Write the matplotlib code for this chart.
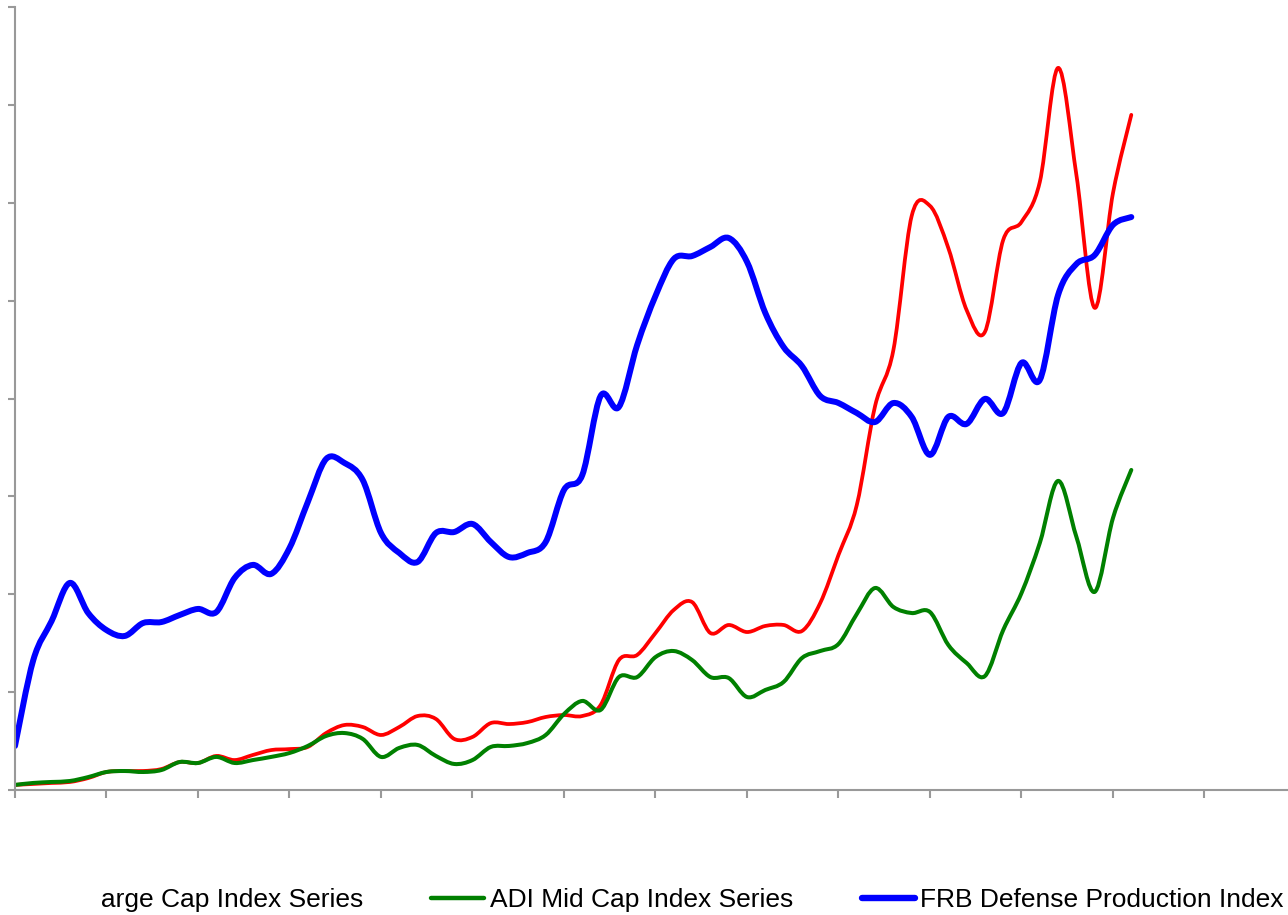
import matplotlib
matplotlib.use("Agg")
import matplotlib.pyplot as plt
from matplotlib.path import Path
from matplotlib.patches import PathPatch
from matplotlib.lines import Line2D
from matplotlib.transforms import Bbox, TransformedBbox
import numpy as np

plt.rcParams['font.family'] = ['Liberation Sans', 'DejaVu Sans']

# quarterly index values
large_cap = [2.6, 3.1, 3.6, 4.1, 6.1, 9.2, 9.7, 9.7, 10.7, 14.3,
             13.8, 17.4, 15.3, 17.9, 20.4, 20.9, 22.0, 29.1, 33.2, 32.2,
             28.1, 32.2, 37.8, 36.3, 26.1, 27.1, 34.2, 33.7, 34.7, 37.3,
             38.3, 37.8, 43.4, 66.4, 69.0, 80.2, 92.0, 96.0, 80.2, 84.3,
             80.7, 83.8, 84.3, 81.2, 95.5, 120.1, 145.6, 196.2, 224.8, 293.3,
             298.4, 276.9, 245.2, 234.0, 281.0, 290.2, 310.6, 368.9, 314.2, 246.3,
             305.0, 344.9]
mid_cap = [2.6, 3.6, 4.1, 4.6, 6.6, 9.2, 9.7, 9.2, 10.2, 14.3,
           13.8, 16.9, 13.8, 15.3, 16.9, 18.9, 22.5, 27.6, 29.1, 26.1,
           16.9, 21.5, 23.0, 17.4, 13.3, 15.3, 22.0, 22.5, 24.0, 28.1,
           38.8, 45.5, 40.9, 57.7, 57.7, 67.9, 71.0, 66.4, 57.7, 57.2,
           47.5, 51.1, 55.2, 67.4, 71.0, 74.6, 89.9, 103.2, 93.5, 90.4,
           90.9, 74.1, 64.9, 58.2, 81.7, 100.6, 126.2, 157.9, 129.3, 101.2,
           139.0, 163.5]
defense = [22.5, 66.4, 86.3, 105.8, 90.4, 81.7, 78.7, 85.3, 85.8, 89.4,
           92.5, 90.9, 108.3, 115.0, 110.4, 123.6, 147.1, 169.1, 167.1, 158.4,
           131.3, 121.1, 116.5, 131.3, 131.8, 135.9, 126.7, 119.0, 121.1, 126.7,
           153.3, 160.9, 201.3, 195.7, 227.4, 252.4, 271.3, 272.8, 277.4, 282.0,
           269.8, 243.7, 226.3, 216.6, 201.3, 197.7, 192.6, 188.0, 197.7, 190.6,
           171.2, 190.6, 187.0, 199.8, 192.6, 218.2, 209.5, 252.9, 268.7, 273.3,
           288.7, 292.7]

labels = ["ADI Large Cap Index Series", "ADI Mid Cap Index Series",
          "FRB Defense Production Index"]
colors = ["#ff0000", "#008000", "#0000ff"]
widths = [2.7, 2.9, 4.3]


def smooth_path(x, y):
    # smoothed line through every point (catmull-rom as bezier segments)
    pts = np.column_stack([x, y])
    n = len(pts)
    verts = [pts[0]]
    codes = [Path.MOVETO]
    for i in range(n - 1):
        p0 = pts[max(i - 1, 0)]
        p1 = pts[i]
        p2 = pts[i + 1]
        p3 = pts[min(i + 2, n - 1)]
        verts += [p1 + (p2 - p0) / 6.0, p2 - (p3 - p1) / 6.0, p2]
        codes += [Path.CURVE4] * 3
    return Path(verts, codes)


fig = plt.figure(figsize=(12.88, 9.15), dpi=100)
ax = fig.add_axes([15 / 1288, 125 / 915, 1281 / 1288, 783 / 915])

x = np.arange(len(defense))
handles = []
for data, c, lw, lab in zip([large_cap, mid_cap, defense], colors, widths, labels):
    patch = PathPatch(smooth_path(x, data), fill=False, edgecolor=c, lw=lw,
                      capstyle='round', joinstyle='round')
    ax.add_patch(patch)
    handles.append(Line2D([], [], color=c, lw=lw + 0.3, solid_capstyle='round', label=lab))

ax.set_xlim(0, 70)
ax.set_ylim(0, 400)
ax.set_xticks(np.arange(0, 71, 5))
ax.set_yticks(np.arange(0, 401, 50))
ax.tick_params(axis='both', colors='#999999', width=1.5, labelleft=False, labelbottom=False)
ax.tick_params(axis='x', length=6)
ax.tick_params(axis='y', length=5)
for s in ['top', 'right']:
    ax.spines[s].set_visible(False)
for s in ['left', 'bottom']:
    ax.spines[s].set_color('#999999')
    ax.spines[s].set_linewidth(1.5)

leg = fig.legend(handles=handles, loc='center', bbox_to_anchor=(630 / 1288, 15 / 915),
                 ncol=3, frameon=False, fontsize=19, handlelength=2.0,
                 handletextpad=0.22, columnspacing=2.6)

# legend is cut off on the left like in the original
clip = TransformedBbox(Bbox([[100.5 / 1288, 0], [1, 1]]), fig.transFigure)
for art in list(leg.get_texts()) + list(leg.legend_handles):
    art.set_clip_box(clip)
    art.set_clip_on(True)

fig.savefig("out.png", dpi=100)
